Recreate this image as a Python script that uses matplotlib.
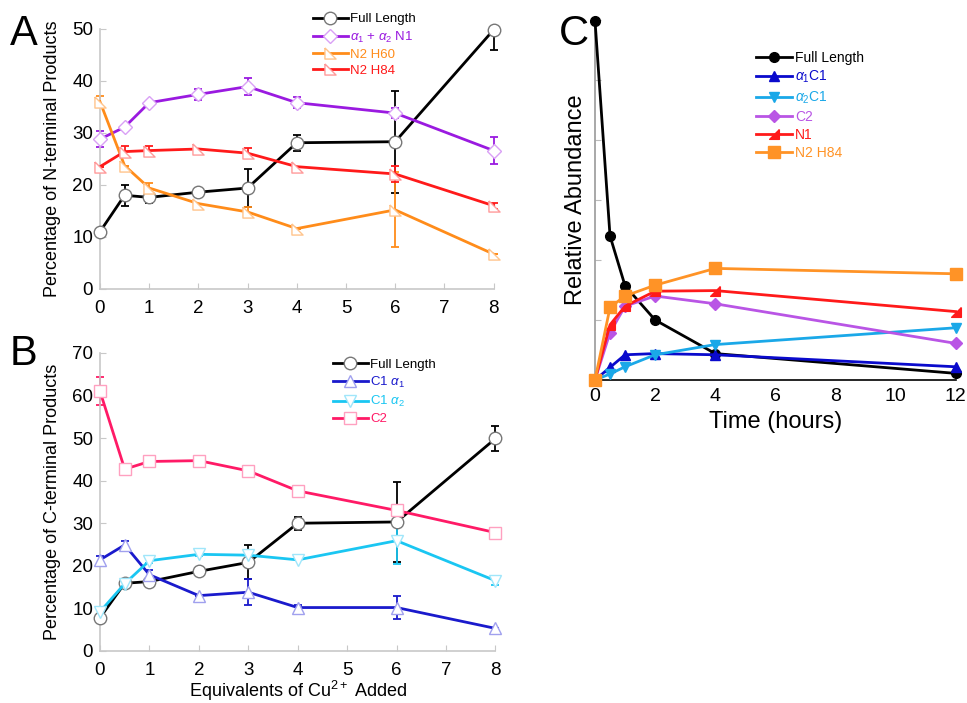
import matplotlib
matplotlib.use('Agg')
import matplotlib.pyplot as plt

plt.rcParams['font.family'] = ['Liberation Sans', 'DejaVu Sans']
plt.rcParams['mathtext.fontset'] = 'custom'
plt.rcParams['mathtext.rm'] = 'Liberation Sans'
plt.rcParams['mathtext.it'] = 'Liberation Sans:italic'

# ---- datos panel A (productos N-terminales) ----
eq = [0, 0.5, 1, 2, 3, 4, 6, 8]
a_full = [11.0, 18.0, 17.6, 18.6, 19.4, 28.1, 28.3, 49.8]
a_full_err_lo = [0, 2.0, 1.0, 0, 3.7, 1.5, 9.8, 3.8]
a_full_err_hi = [0, 2.0, 1.0, 0, 3.7, 1.5, 9.8, 0]
a_n1 = [28.8, 31.1, 35.8, 37.4, 38.9, 35.8, 33.8, 26.6]
a_n1_err = [1.5, 0, 0.3, 1.0, 1.6, 1.0, 1.0, 2.6]
a_h60 = [36.0, 23.7, 19.4, 16.4, 14.8, 11.6, 15.2, 6.7]
a_h60_err = [1.0, 0, 1.0, 0, 1.0, 0, 7.2, 0]
a_h84 = [23.5, 26.4, 26.6, 26.9, 26.1, 23.5, 22.1, 16.0]
a_h84_err = [0, 1.0, 0.8, 0, 1.0, 0, 1.6, 0.6]

# ---- datos panel B (productos C-terminales) ----
b_full = [7.8, 15.9, 16.3, 18.7, 20.8, 30.0, 30.3, 49.9]
b_full_err = [0, 1.0, 0, 0, 4.0, 1.5, 9.4, 2.9]
b_c1a1 = [21.4, 24.9, 17.9, 13.0, 13.8, 10.2, 10.2, 5.3]
b_c1a1_err = [1.0, 1.0, 1.0, 0, 3.0, 0.7, 2.7, 0]
b_c1a2 = [9.2, 15.8, 21.2, 22.7, 22.5, 21.4, 25.9, 16.5]
b_c1a2_err = [1.0, 0, 0.6, 0.5, 1.0, 0, 5.5, 1.0]
b_c2 = [61.0, 42.7, 44.5, 44.7, 42.3, 37.6, 33.0, 27.8]
b_c2_err = [3.3, 0, 1.3, 1.2, 0, 0, 0, 1.0]

# ---- datos panel C (abundancia relativa vs tiempo) ----
horas = [0, 0.5, 1, 2, 4, 12]
c_full = [5.99, 2.40, 1.57, 1.00, 0.44, 0.11]
c_a1c1 = [0, 0.21, 0.42, 0.44, 0.42, 0.22]
c_a2c1 = [0, 0.10, 0.22, 0.42, 0.59, 0.87]
c_c2 = [0, 0.79, 1.23, 1.40, 1.27, 0.61]
c_n1 = [0, 0.92, 1.23, 1.48, 1.49, 1.14]
c_n2h84 = [0, 1.21, 1.40, 1.58, 1.86, 1.77]

tri_abierto = [(-1, 1), (-1, -1), (1, -1), (-1, 1)]   # triangulo rectangulo
tri_n1 = [(1, 1), (1, -1), (-1, -1), (1, 1)]

fig = plt.figure(figsize=(9.67, 7.03), dpi=100)
gris = '#c8c8c8'


def estilo_ejes(ax):
    for s in ['top', 'right']:
        ax.spines[s].set_visible(False)
    for s in ['left', 'bottom']:
        ax.spines[s].set_color(gris)
        ax.spines[s].set_linewidth(1.2)
    ax.tick_params(direction='in', length=4, color=gris, labelsize=13.5, pad=5)
    ax.tick_params(axis='x', pad=8)


def serie(ax, x, y, err, color, edge, marker, label, ms=9):
    ax.errorbar(x, y, yerr=err, fmt='none', ecolor=color, elinewidth=1.3,
                capsize=3, capthick=1.3, zorder=2, clip_on=False)
    ax.plot(x, y, color=color, lw=2, marker=marker, ms=ms, mfc='white',
            mec=edge, mew=1, label=label, zorder=3, clip_on=False)


def leyenda(ax, x0, y0, fs):
    ax.legend(loc='upper left', bbox_to_anchor=(x0, y0), frameon=False,
              fontsize=fs, labelcolor='linecolor', handlelength=2.6,
              handletextpad=0.2, labelspacing=0.3, borderpad=0, borderaxespad=0)


# ---------------- panel A ----------------
axA = fig.add_axes([0.1034, 0.589, 0.407, 0.370])
estilo_ejes(axA)
serie(axA, eq, a_full, [a_full_err_lo, a_full_err_hi], 'black', '#777777', 'o', 'Full Length')
serie(axA, eq, a_n1, a_n1_err, '#9a1ae0', '#d9a0f5', 'D', r'$\alpha_1$ + $\alpha_2$ N1', ms=7)
serie(axA, eq, a_h60, a_h60_err, '#ff8c1a', '#ffc48c', tri_abierto, 'N2 H60', ms=8)
serie(axA, eq, a_h84, a_h84_err, '#ff1a1a', '#ff9a9a', tri_abierto, 'N2 H84', ms=8)
axA.set_xlim(0, 8)
axA.set_ylim(0, 50)
axA.set_xticks(range(0, 9))
axA.set_yticks(range(0, 51, 10))
axA.set_ylabel('Percentage of N-terminal Products', fontsize=13, labelpad=8)
leyenda(axA, 0.542, 1.06, 9.5)

# ---------------- panel B ----------------
axB = fig.add_axes([0.1034, 0.074, 0.409, 0.424])
estilo_ejes(axB)
serie(axB, eq, b_full, b_full_err, 'black', '#777777', 'o', 'Full Length')
serie(axB, eq, b_c1a1, b_c1a1_err, '#1a1acc', '#a0a0ee', '^', r'C1 $\alpha_1$', ms=8)
serie(axB, eq, b_c1a2, b_c1a2_err, '#1ac6f2', '#a0e6fa', 'v', r'C1 $\alpha_2$', ms=8)
serie(axB, eq, b_c2, b_c2_err, '#ff1a66', '#ffa0c0', 's', 'C2', ms=8)
axB.set_xlim(0, 8)
axB.set_ylim(0, 70)
axB.set_xticks(range(0, 9))
axB.set_yticks(range(0, 71, 10))
axB.set_ylabel('Percentage of C-terminal Products', fontsize=13, labelpad=8)
axB.set_xlabel('Equivalents of Cu$^{2+}$ Added', fontsize=13, labelpad=0)
leyenda(axB, 0.59, 0.98, 9.5)

# ---------------- panel C ----------------
axC = fig.add_axes([0.6153, 0.4595, 0.373, 0.512])
for s in ['top', 'right']:
    axC.spines[s].set_visible(False)
axC.spines['left'].set_color('#999999')
axC.spines['left'].set_linewidth(1.2)
axC.spines['bottom'].set_color('black')
axC.spines['bottom'].set_linewidth(1.2)
axC.tick_params(axis='y', direction='in', length=4, color='#bbbbbb', labelleft=False)
axC.tick_params(axis='x', direction='in', length=0, labelsize=14, pad=6)
axC.plot(horas, c_full, color='black', lw=2, marker='o', ms=7, label='Full Length', zorder=3, clip_on=False)
axC.plot(horas, c_a1c1, color='#0a0acc', lw=2, marker='^', ms=7, label=r'$\alpha_1$C1', zorder=3, clip_on=False)
axC.plot(horas, c_a2c1, color='#1aa8e8', lw=2, marker='v', ms=7, label=r'$\alpha_2$C1', zorder=3, clip_on=False)
axC.plot(horas, c_c2, color='#b955e5', lw=2, marker='D', ms=6, label='C2', zorder=3, clip_on=False)
axC.plot(horas, c_n1, color='#ff1a1a', lw=2, marker=tri_n1, ms=7, label='N1', zorder=3, clip_on=False)
axC.plot(horas, c_n2h84, color='#ff9326', lw=2, marker='s', ms=8, label='N2 H84', zorder=3, clip_on=False)
axC.set_xlim(0, 12)
axC.set_ylim(0, 6)
axC.set_xticks(range(0, 13, 2))
axC.set_yticks(range(0, 7))
axC.set_xlabel('Time (hours)', fontsize=17, labelpad=4)
axC.set_ylabel('Relative Abundance', fontsize=17, labelpad=6)
leyenda(axC, 0.446, 0.915, 10)

# letras de panel
fig.text(0.010, 0.952, 'A', fontsize=30, va='center')
fig.text(0.010, 0.497, 'B', fontsize=30, va='center')
fig.text(0.578, 0.952, 'C', fontsize=30, va='center')

fig.savefig('out.png', dpi=100)
